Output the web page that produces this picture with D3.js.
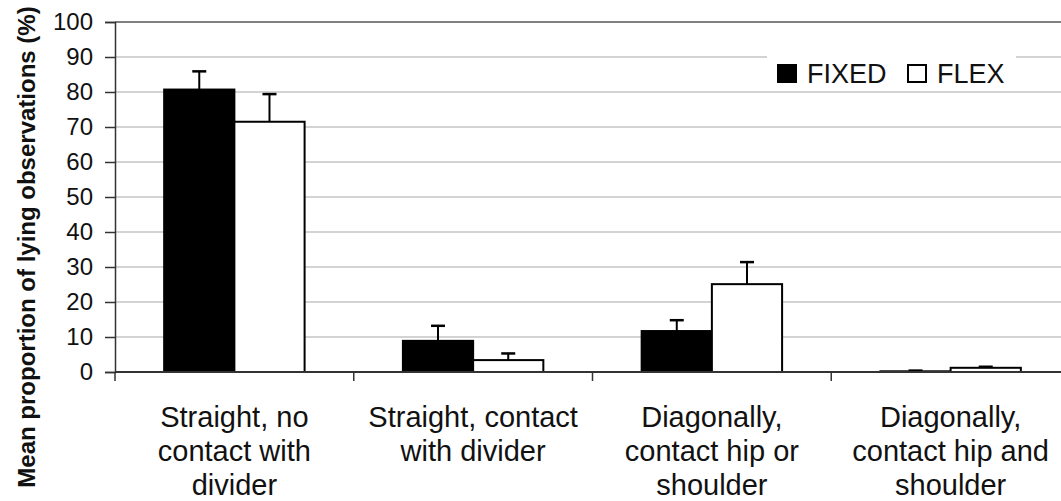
<!DOCTYPE html>
<html><head><meta charset="utf-8">
<script src="https://cdn.jsdelivr.net/npm/d3@7"></script>
<style>body{margin:0;background:#fff}svg{display:block;font-family:"Liberation Sans",Arial,sans-serif}</style>
</head><body><svg id="c" width="1061" height="501"></svg>
<script>
const categories = [
  ["Straight, no", "contact with", "divider"],
  ["Straight, contact", "with divider"],
  ["Diagonally,", "contact hip or", "shoulder"],
  ["Diagonally,", "contact hip and", "shoulder"]
];
const seriesNames = ["FIXED", "FLEX"];
const fixedValues = [80.7, 8.9, 11.7, 0.2];
const fixedErrors = [5.2, 4.3, 3.1, 0.2];
const flexValues = [71.5, 3.4, 25.1, 1.2];
const flexErrors = [7.9, 1.9, 6.3, 0.3];
const yTicks = [0,10,20,30,40,50,60,70,80,90,100];

(function(){
const svg = d3.select("#c");
const mL = 115, mT = 22, mB = 372, mR = 1070;
const x = d3.scaleBand().domain(d3.range(categories.length)).range([mL, mR]).paddingInner(0).paddingOuter(0);
const inner = d3.scaleBand().domain([0,1]).range([0, x.bandwidth()]).paddingInner(0).paddingOuter(0.7);
const y = d3.scaleLinear().domain([0,100]).range([mB, mT]);

// gridlines
svg.append("g").selectAll("line").data(yTicks.filter(d=>d>0)).join("line")
  .attr("x1", mL).attr("x2", 1061).attr("y1", d=>y(d)).attr("y2", d=>y(d))
  .attr("stroke", d=>d===100?"#808080":"#c4c4c4").attr("stroke-width", d=>d===100?2:1.5);

// y axis
const ya = svg.append("g").attr("transform", `translate(${mL},0)`)
  .call(d3.axisLeft(y).tickValues(yTicks).tickSize(10).tickPadding(12));
ya.select(".domain").attr("stroke", "#333").attr("stroke-width", 1.5);
ya.selectAll(".tick line").attr("stroke", "#333").attr("stroke-width", 1.5);
ya.selectAll(".tick text").attr("font-size", 24).attr("fill", "#111").attr("font-family", "Liberation Sans, Arial, sans-serif");

const series = [
  {name: seriesNames[0], vals: fixedValues, errs: fixedErrors, fill: "#000"},
  {name: seriesNames[1], vals: flexValues, errs: flexErrors, fill: "#fff"}
];

series.forEach((s, si) => {
  const g = svg.append("g");
  s.vals.forEach((v, i) => {
    const cx = x(i) + inner(si) + inner.bandwidth()/2;
    g.append("line").attr("x1", cx).attr("x2", cx).attr("y1", y(v)).attr("y2", y(v + s.errs[i]))
      .attr("stroke", "#000").attr("stroke-width", 2);
    g.append("line").attr("x1", cx-7).attr("x2", cx+7).attr("y1", y(v + s.errs[i])).attr("y2", y(v + s.errs[i]))
      .attr("stroke", "#000").attr("stroke-width", 2.5);
  });
});

series.forEach((s, si) => {
  svg.append("g").selectAll("rect").data(s.vals).join("rect")
    .attr("x", (d,i)=> x(i) + inner(si))
    .attr("width", inner.bandwidth())
    .attr("y", d=> y(d))
    .attr("height", d=> y(0) - y(d))
    .attr("fill", s.fill).attr("stroke", "#000").attr("stroke-width", 2);
});

// x axis
svg.append("line").attr("x1", mL).attr("x2", 1061).attr("y1", mB).attr("y2", mB)
  .attr("stroke", "#333").attr("stroke-width", 2);
svg.append("g").selectAll("line").data(d3.range(categories.length+1)).join("line")
  .attr("x1", i=> i<categories.length ? x(i) : mR).attr("x2", i=> i<categories.length ? x(i) : mR)
  .attr("y1", mB).attr("y2", mB+9).attr("stroke", "#333").attr("stroke-width", 1.5);

const cl = svg.append("g");
categories.forEach((lines, i) => {
  const t = cl.append("text").attr("text-anchor", "middle").attr("font-size", 29).attr("fill", "#111");
  lines.forEach((ln, j) => {
    t.append("tspan").attr("x", x(i) + x.bandwidth()/2).attr("y", 427 + j*34).text(ln);
  });
});

svg.append("text").attr("transform", `translate(35,247) rotate(-90)`)
  .attr("text-anchor", "middle").attr("font-size", 24).attr("font-weight", "bold").attr("fill", "#111")
  .text("Mean proportion of lying observations (%)");

const lg = svg.append("g");
lg.append("rect").attr("x", 767).attr("y", 50).attr("width", 249).attr("height", 40).attr("fill", "#fff");
const legX = [778, 908];
series.forEach((s, si) => {
  lg.append("rect").attr("x", legX[si]).attr("y", 65).attr("width", 18).attr("height", 17)
    .attr("fill", s.fill).attr("stroke", "#000").attr("stroke-width", 2);
  lg.append("text").attr("x", legX[si] + 29).attr("y", 83).attr("font-size", 27).attr("fill", "#111").text(s.name);
});
})();
</script></body></html>
